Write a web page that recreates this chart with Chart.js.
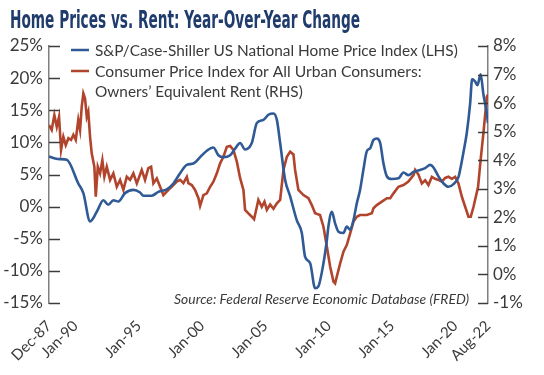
<!DOCTYPE html>
<html>
<head>
<meta charset="utf-8">
<script src="https://cdn.jsdelivr.net/npm/chart.js@4.4.0/dist/chart.umd.min.js"></script>
<style>
  html, body { margin: 0; padding: 0; background: #fff; }
  #wrap { width: 544px; height: 375px; position: relative; }
</style>
</head>
<body>
<div id="wrap"><canvas id="chart" width="544" height="375"></canvas></div>
<script>
// x positions are decimal years (Dec-87 .. Aug-22)
var xTickValues = [1987.917, 1990, 1995, 2000, 2005, 2010, 2015, 2020, 2022.583];
var xTickLabels = ['Dec-87', 'Jan-90', 'Jan-95', 'Jan-00', 'Jan-05', 'Jan-10', 'Jan-15', 'Jan-20', 'Aug-22'];

// S&P/Case-Shiller national index, YoY % (left axis)
var hpiDates = [1987.92, 1988.4, 1988.8, 1989.32, 1990.23, 1990.63, 1991.16, 1991.69, 1992.21, 1992.6,
  1993.0, 1993.39, 1993.92, 1994.58, 1995.11, 1995.37, 1996.03, 1996.55, 1997.22, 1997.74,
  1998.27, 1998.8, 1999.32, 1999.85, 2000.38, 2000.9, 2001.29, 2001.69, 2002.22, 2002.61,
  2003.01, 2003.4, 2003.93, 2004.33, 2004.85, 2005.24, 2005.64, 2005.91, 2006.17, 2006.56,
  2006.96, 2007.48, 2007.88, 2008.14, 2008.54, 2008.93, 2009.19, 2009.59, 2009.86, 2009.98,
  2010.25, 2010.51, 2010.77, 2011.17, 2011.43, 2011.7, 2011.96, 2012.22, 2012.48, 2012.74,
  2013.01, 2013.28, 2013.54, 2013.8, 2014.07, 2014.33, 2014.6, 2014.99, 2015.51, 2015.91,
  2016.3, 2016.7, 2017.23, 2017.62, 2018.02, 2018.28, 2018.67, 2019.07, 2019.46, 2019.86,
  2020.25, 2020.39, 2020.65, 2020.91, 2021.17, 2021.33, 2021.56, 2021.75, 2022.0, 2022.22,
  2022.49, 2022.58];
var hpiValues = [7.8, 7.5, 7.4, 7.3, 3.6, 2.1, -2.3, -0.8, 1.0, 0.3,
  1.0, 0.8, 2.1, 2.6, 2.2, 1.7, 1.7, 2.3, 2.7, 3.6,
  5.2, 6.5, 6.7, 7.7, 8.7, 9.2, 8.0, 7.7, 8.0, 9.0,
  9.9, 8.9, 9.9, 13.0, 13.5, 14.3, 14.5, 13.5, 9.9, 4.2,
  1.6, -2.1, -4.1, -7.8, -8.8, -12.7, -12.4, -8.8, -5.2, -3.1,
  -0.8, -2.6, -3.9, -4.1, -3.1, -3.6, -2.1, 0.5, 2.6, 5.7,
  8.6, 9.1, 10.4, 10.6, 9.9, 6.7, 4.7, 4.3, 4.4, 5.3,
  4.9, 5.4, 5.7, 6.0, 6.5, 6.1, 4.7, 3.6, 3.1, 3.5,
  4.6, 5.8, 8.5, 11.5, 16.0, 19.8, 19.5, 18.9, 20.6, 17.5,
  14.5, 13.0];

// CPI Owners' Equivalent Rent, YoY % (right axis)
var oerDates = [1987.92, 1988.13, 1988.34, 1988.53, 1988.71, 1988.87, 1989.05, 1989.24, 1989.45, 1989.66,
  1989.84, 1990.03, 1990.23, 1990.37, 1990.5, 1990.63, 1990.76, 1990.9, 1991.02, 1991.16,
  1991.29, 1991.5, 1991.61, 1991.77, 1991.95, 1992.13, 1992.29, 1992.48, 1992.74, 1993.0,
  1993.27, 1993.53, 1993.79, 1994.06, 1994.32, 1994.58, 1994.85, 1995.11, 1995.24, 1995.5,
  1995.76, 1995.98, 1996.16, 1996.43, 1996.69, 1996.95, 1997.22, 1997.48, 1997.74, 1998.01,
  1998.27, 1998.53, 1998.8, 1998.92, 1999.19, 1999.45, 1999.72, 1999.85, 2000.11, 2000.38,
  2000.64, 2000.9, 2001.17, 2001.43, 2001.69, 2001.96, 2002.22, 2002.48, 2002.75, 2003.01,
  2003.27, 2003.4, 2003.66, 2003.93, 2004.11, 2004.33, 2004.45, 2004.72, 2004.93, 2005.12,
  2005.38, 2005.64, 2005.91, 2006.17, 2006.43, 2006.7, 2006.96, 2007.22, 2007.35, 2007.61,
  2008.01, 2008.4, 2008.67, 2008.93, 2009.32, 2009.59, 2009.86, 2010.12, 2010.38, 2010.51,
  2010.64, 2010.91, 2011.17, 2011.43, 2011.7, 2011.96, 2012.22, 2012.48, 2013.01, 2013.41,
  2013.54, 2013.8, 2014.2, 2014.6, 2014.86, 2015.12, 2015.51, 2015.91, 2016.3, 2016.7,
  2016.83, 2017.09, 2017.36, 2017.62, 2017.88, 2018.15, 2018.41, 2018.67, 2018.94, 2019.2,
  2019.46, 2019.73, 2019.99, 2020.25, 2020.52, 2020.78, 2021.04, 2021.22, 2021.44, 2021.8,
  2022.0, 2022.22, 2022.49, 2022.58];
var oerValues = [5.23, 5.06, 5.58, 5.17, 5.52, 4.36, 4.82, 4.53, 4.77, 4.71,
  4.89, 4.71, 5.41, 5.06, 5.87, 6.34, 6.17, 5.52, 5.7, 4.82,
  4.24, 3.77, 2.72, 3.77, 3.54, 4.0, 3.42, 3.77, 3.31, 3.54,
  3.07, 3.31, 2.96, 3.42, 3.31, 3.54, 3.19, 3.5, 3.66, 3.31,
  3.72, 3.77, 3.19, 3.36, 3.07, 2.78, 2.9, 3.02, 3.13, 3.25,
  3.31, 3.2, 3.42, 3.2, 3.13, 2.96, 2.67, 2.4, 2.78, 2.84,
  3.07, 3.25, 3.54, 3.89, 4.12, 4.47, 4.5, 4.36, 3.95, 3.37,
  2.96, 2.26, 2.14, 2.02, 1.93, 2.37, 2.61, 2.37, 2.55, 2.26,
  2.45, 2.3, 2.49, 2.61, 3.66, 4.12, 4.3, 4.2, 3.66, 2.96,
  2.78, 2.67, 2.43, 2.14, 2.08, 1.67, 0.97, 0.27, -0.25, -0.31,
  -0.08, 0.39, 0.8, 1.03, 1.44, 1.85, 2.02, 2.08, 2.08, 2.14,
  2.32, 2.43, 2.55, 2.67, 2.67, 2.84, 3.07, 3.13, 3.25, 3.48,
  3.66, 3.5, 3.19, 3.3, 3.13, 3.42, 3.35, 3.31, 3.25, 3.38,
  3.42, 3.35, 3.42, 3.19, 2.72, 2.37, 2.02, 2.02, 2.37, 3.07,
  4.01, 4.94, 6.22, 6.3];

var seriesNames = ['S&P/Case-Shiller US National Home Price Index (LHS)',
  'Consumer Price Index for All Urban Consumers: Owners\u2019 Equivalent Rent (RHS)'];
var titleText = 'Home Prices vs. Rent: Year-Over-Year Change';
var sourceText = 'Source: Federal Reserve Economic Database (FRED)';

var BLUE = '#2f5a95';
var RED = '#b1442c';
var TEXT = '#3a3a3a';
var LATO = 'Lato, "Open Sans", sans-serif';

function pairs(xs, ys) {
  return xs.map(function (x, i) { return { x: x, y: ys[i] }; });
}

// text sized so that it fills a given width
function fitText(ctx, text, x, y, width, style, align) {
  var base = 20;
  ctx.font = style + ' ' + base + 'px ' + LATO;
  var size = base * width / ctx.measureText(text).width;
  ctx.font = style + ' ' + size.toFixed(2) + 'px ' + LATO;
  ctx.textAlign = align || 'left';
  ctx.fillText(text, x, y);
}

var decorPlugin = {
  id: 'decor',
  afterDraw: function (chart) {
    var ctx = chart.ctx;
    var area = chart.chartArea;
    ctx.save();

    // title (condensed bold)
    ctx.fillStyle = '#1f3c6c';
    ctx.textBaseline = 'alphabetic';
    ctx.font = 'bold 24px "Liberation Sans Narrow", "DejaVu Sans Condensed", sans-serif';
    var tw = ctx.measureText(titleText).width;
    ctx.save();
    ctx.translate(10, 28);
    ctx.scale(350 / tw, 1);
    ctx.textAlign = 'left';
    ctx.fillText(titleText, 0, 0);
    ctx.restore();

    // inward tick marks
    ['y', 'y1'].forEach(function (id) {
      var sc = chart.scales[id];
      var left = id === 'y';
      ctx.strokeStyle = '#3c3c3c';
      ctx.lineWidth = 1.5;
      sc.ticks.forEach(function (t) {
        var py = Math.round(sc.getPixelForValue(t.value)) + 0.5;
        ctx.beginPath();
        if (left) { ctx.moveTo(area.left, py); ctx.lineTo(area.left + 11, py); }
        else { ctx.moveTo(area.right, py); ctx.lineTo(area.right - 10, py); }
        ctx.stroke();
      });
    });

    // legend
    ctx.lineWidth = 2.5;
    ctx.strokeStyle = BLUE;
    ctx.beginPath(); ctx.moveTo(71, 50); ctx.lineTo(89, 50); ctx.stroke();
    ctx.strokeStyle = RED;
    ctx.beginPath(); ctx.moveTo(71, 71); ctx.lineTo(89, 71); ctx.stroke();
    ctx.fillStyle = TEXT;
    fitText(ctx, seriesNames[0], 95, 56, 363, 'normal');
    fitText(ctx, 'Consumer Price Index for All Urban Consumers:', 95, 76.5, 327, 'normal');
    fitText(ctx, 'Owners\u2019 Equivalent Rent (RHS)', 95, 97, 208, 'normal');

    // source
    fitText(ctx, sourceText, 469, 304, 295, 'italic', 'right');
    ctx.restore();
  }
};

var ctx = document.getElementById('chart').getContext('2d');
var chart = new Chart(ctx, {
  type: 'line',
  data: {
    datasets: [{
      label: seriesNames[0],
      data: pairs(hpiDates, hpiValues),
      yAxisID: 'y',
      borderColor: BLUE,
      borderWidth: 2.6,
      pointRadius: 0,
      cubicInterpolationMode: 'monotone'
    }, {
      label: seriesNames[1],
      data: pairs(oerDates, oerValues),
      yAxisID: 'y1',
      borderColor: RED,
      borderWidth: 2.6,
      pointRadius: 0,
      tension: 0
    }]
  },
  options: {
    responsive: false,
    animation: false,
    devicePixelRatio: 1,
    layout: { padding: { top: 46, left: 0, right: 0, bottom: 0 } },
    plugins: {
      legend: { display: false },
      title: { display: false },
      tooltip: { enabled: false }
    },
    scales: {
      x: {
        type: 'linear',
        min: 1987.917,
        max: 2022.583,
        afterBuildTicks: function (scale) {
          scale.ticks = xTickValues.map(function (v) { return { value: v }; });
        },
        afterFit: function (scale) { scale.height = 72; },
        grid: { display: false },
        border: { display: false },
        ticks: {
          autoSkip: false,
          minRotation: 45,
          maxRotation: 45,
          padding: 6,
          color: TEXT,
          font: { family: 'Lato', size: 15 },
          callback: function (value, index) { return xTickLabels[index]; }
        }
      },
      y: {
        position: 'left',
        min: -15,
        max: 25,
        afterFit: function (scale) { scale.width = 49; },
        grid: { drawOnChartArea: false, drawTicks: false },
        border: { display: true, color: '#7f7f7f', width: 1.5 },
        ticks: {
          stepSize: 5,
          padding: 6,
          color: TEXT,
          font: { family: 'Lato', size: 17 },
          callback: function (v) { return v + '%'; }
        }
      },
      y1: {
        position: 'right',
        min: -1,
        max: 8,
        afterFit: function (scale) { scale.width = 56; },
        grid: { drawOnChartArea: false, drawTicks: false },
        border: { display: true, color: '#7f7f7f', width: 1.5 },
        ticks: {
          stepSize: 1,
          padding: 5,
          color: TEXT,
          font: { family: 'Lato', size: 17 },
          callback: function (v) { return v + '%'; }
        }
      }
    }
  },
  plugins: [decorPlugin]
});
</script>
</body>
</html>
